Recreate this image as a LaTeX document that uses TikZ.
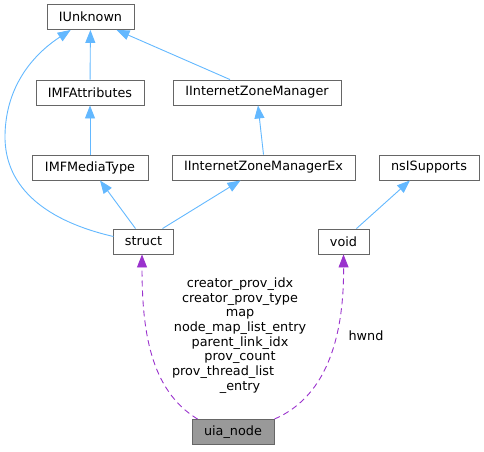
\documentclass[tikz,border=0pt]{standalone}
\usepackage{fontspec}
\setmainfont{DejaVu Sans}
\usetikzlibrary{arrows.meta}
\definecolor{inhblue}{HTML}{63B8FF}
\definecolor{collpurple}{HTML}{9A32CD}
\definecolor{boxborder}{HTML}{666666}
\definecolor{focusfill}{HTML}{999999}
\begin{document}
\begin{tikzpicture}[x=1pt,y=-1pt,
  every node/.style={font=\fontsize{12.8}{14.7}\selectfont, text=black},
  cls/.style={draw=boxborder, fill=white, line width=0.9pt, rectangle, inner xsep=11pt, inner ysep=0pt, minimum height=25pt},
  focus/.style={cls, fill=focusfill},
  inh/.style={draw=inhblue, line width=0.9pt, -{Triangle[length=13pt,width=10pt,fill=inhblue]}},
  coll/.style={draw=collpurple, line width=0.9pt, dash pattern=on 6pt off 4pt, -{Triangle[length=13pt,width=10pt,fill=collpurple]}},
  lbl/.style={align=center, inner sep=0pt}]
\useasboundingbox (0,0) rectangle (484,451);
\node[cls, minimum width=87pt] (IUnknown) at (90.5,17) {IUnknown};
\node[cls, minimum width=108pt] (IMFAttributes) at (90,92.5) {IMFAttributes};
\node[cls, minimum width=168pt] (IIZM) at (257,92.5) {IInternetZoneManager};
\node[cls, minimum width=116pt] (IMFMediaType) at (90,167.5) {IMFMediaType};
\node[cls, minimum width=183pt] (IIZMEx) at (263.5,167.5) {IInternetZoneManagerEx};
\node[cls, minimum width=100pt] (nsISupports) at (429,167.5) {nsISupports};
\node[cls, minimum width=59pt] (struct) at (143.5,241.5) {struct};
\node[cls, minimum width=51pt] (void) at (343.5,241.5) {void};
\node[focus, minimum width=82pt] (uia) at (233,432) {uia\_node};
% inheritance edges
\draw[inh] (IMFAttributes) -- (IUnknown);
\draw[inh] ([xshift=-27pt]IIZM.north) -- ([xshift=26pt]IUnknown.south);
\draw[inh] ([yshift=5pt]struct.west) .. controls (50,222) and (4,190) .. (5,135)
  .. controls (6,80) and (40,50) .. (IUnknown);
\draw[inh] (IMFMediaType) -- (IMFAttributes);
\draw[inh] (IIZMEx.north) -- ([xshift=1pt]IIZM.south);
\draw[inh] ([xshift=-8pt]struct.north) -- ([xshift=10pt]IMFMediaType.south);
\draw[inh] ([xshift=19pt]struct.north) -- ([xshift=-23pt]IIZMEx.south);
\draw[inh] ([xshift=13pt]void.north) -- ([xshift=-19pt]nsISupports.south);
% collaboration edges
\draw[coll] ([xshift=6pt]uia.north west) .. controls (150,390) and (142,330) .. ([xshift=-1.5pt]struct.south);
\draw[coll] (uia.north east) .. controls (330,395) and (344,330) .. (void.south);
\node[lbl] (lab1) at (240,335.5) {creator\_prov\_idx\\creator\_prov\_type\\map\\node\_map\_list\_entry\\parent\_link\_idx\\prov\_count\\\makebox[136pt][l]{prov\_thread\_list}\\\_entry};
\node[lbl] (lab2) at (366,336) {hwnd};
\end{tikzpicture}
\end{document}
